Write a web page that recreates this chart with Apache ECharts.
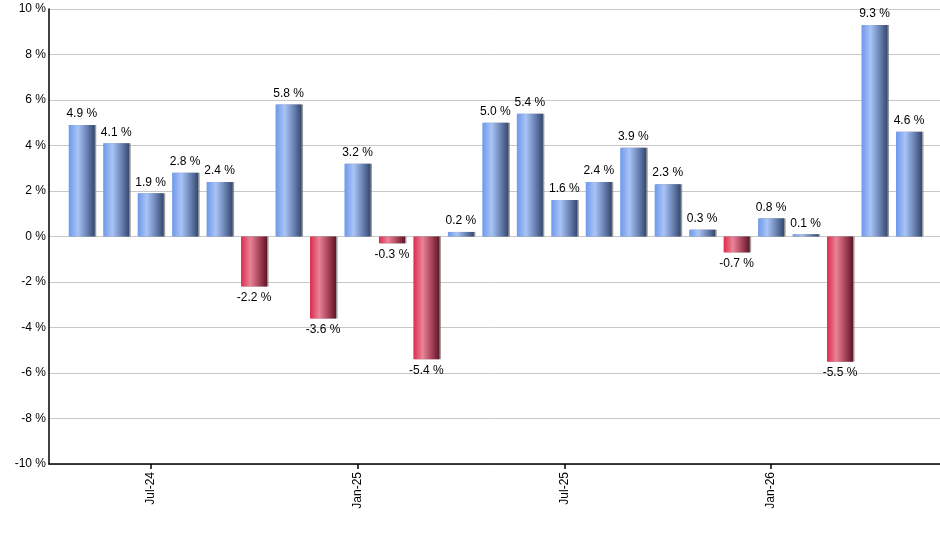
<!DOCTYPE html>
<html>
<head>
<meta charset="utf-8">
<script src="https://cdn.jsdelivr.net/npm/echarts@6/dist/echarts.min.js"></script>
<style>
  html, body { margin: 0; padding: 0; background: #fff; }
  #chart { width: 940px; height: 550px; }
</style>
</head>
<body>
<div id="chart"></div>
<script>
// monthly returns, May-24 .. May-26
const months = ['May-24', 'Jun-24', 'Jul-24', 'Aug-24', 'Sep-24', 'Oct-24', 'Nov-24', 'Dec-24',
  'Jan-25', 'Feb-25', 'Mar-25', 'Apr-25', 'May-25', 'Jun-25', 'Jul-25', 'Aug-25', 'Sep-25',
  'Oct-25', 'Nov-25', 'Dec-25', 'Jan-26', 'Feb-26', 'Mar-26', 'Apr-26', 'May-26'];
const returns = [4.9, 4.1, 1.9, 2.8, 2.4, -2.2, 5.8, -3.6, 3.2, -0.3, -5.4, 0.2, 5.0, 5.4,
  1.6, 2.4, 3.9, 2.3, 0.3, -0.7, 0.8, 0.1, -5.5, 9.3, 4.6];
const tickLabels = ['Jul-24', 'Jan-25', 'Jul-25', 'Jan-26'];

const tickIdx = tickLabels.map(l => months.indexOf(l));

const blueFill = new echarts.graphic.LinearGradient(0, 0, 1, 0, [
  { offset: 0, color: '#6e98ea' },
  { offset: 0.35, color: '#a9c4f6' },
  { offset: 0.7, color: '#6a83b4' },
  { offset: 1, color: '#34486f' }
]);
const redFill = new echarts.graphic.LinearGradient(0, 0, 1, 0, [
  { offset: 0, color: '#dc2a4c' },
  { offset: 0.35, color: '#e98398' },
  { offset: 0.7, color: '#a8445a' },
  { offset: 1, color: '#5e1526' }
]);

const barData = returns.map((v, i) => ({
  value: [i, v],
  itemStyle: { color: v < 0 ? redFill : blueFill },
  label: { position: v < 0 ? 'bottom' : 'top' }
}));

const chart = echarts.init(document.getElementById('chart'), null, { renderer: 'canvas' });
chart.setOption({
  animation: false,
  backgroundColor: '#fff',
  grid: { left: 49, right: 0, top: 9, bottom: 86, containLabel: false },
  xAxis: {
    type: 'value',
    min: -0.95,
    max: 24.9,
    axisLine: { show: true, onZero: false, lineStyle: { color: '#000', width: 1.5 } },
    axisTick: { show: true, customValues: tickIdx, length: 5, lineStyle: { color: '#000', width: 1.5 } },
    axisLabel: {
      customValues: tickIdx,
      rotate: 90,
      margin: 8,
      color: '#000',
      fontFamily: 'Liberation Sans, Arial, sans-serif',
      fontSize: 12,
      formatter: v => months[Math.round(v)]
    },
    splitLine: { show: false }
  },
  yAxis: {
    type: 'value',
    min: -10,
    max: 10,
    interval: 2,
    axisLine: { show: true, onZero: false, lineStyle: { color: '#000', width: 1.5 } },
    axisTick: { show: false },
    axisLabel: {
      margin: 3,
      color: '#000',
      fontFamily: 'Liberation Sans, Arial, sans-serif',
      fontSize: 12,
      formatter: v => v + ' %'
    },
    splitLine: { show: true, lineStyle: { color: '#c8c8c8', width: 1 } }
  },
  series: [{
    type: 'bar',
    data: barData,
    barWidth: 26,
    itemStyle: {
      shadowColor: 'rgba(110,110,110,0.7)',
      shadowOffsetX: 1.5,
      shadowOffsetY: 0,
      shadowBlur: 0
    },
    label: {
      show: true,
      distance: 5,
      color: '#000',
      fontFamily: 'Liberation Sans, Arial, sans-serif',
      fontSize: 12,
      formatter: p => p.value[1].toFixed(1) + ' %'
    }
  }]
});
</script>
</body>
</html>
